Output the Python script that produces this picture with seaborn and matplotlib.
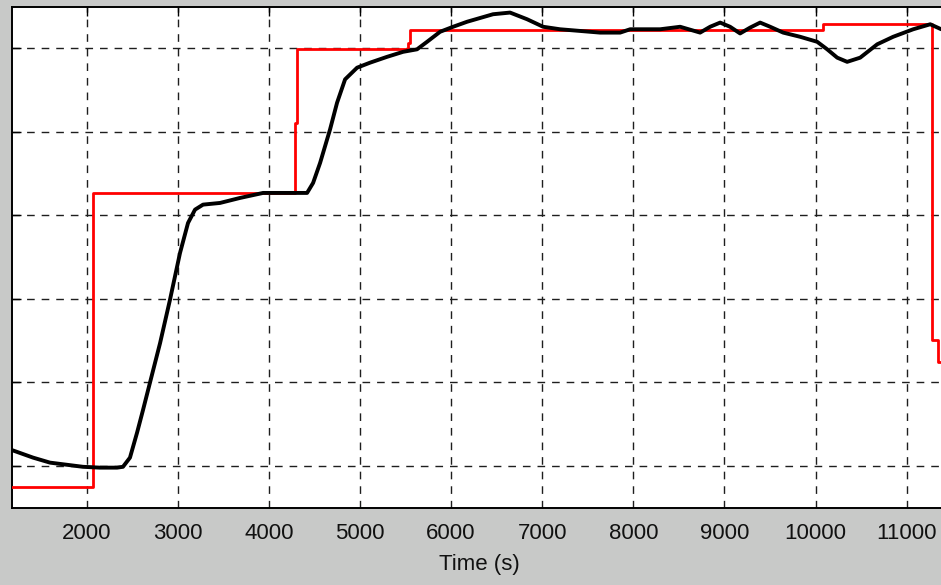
import numpy as np
import pandas as pd
import matplotlib
matplotlib.use("Agg")
import matplotlib.pyplot as plt
import seaborn as sns

# setpoint (red, stepwise) : time of each step and level after it
ref_time = [1180, 2069, 4285, 4310, 5530, 5549, 10082, 11276, 11345, 11450]
ref_level = [0.745, 4.27, 5.11, 5.99, 6.06, 6.22, 6.29, 2.51, 2.25, 2.25]

# measured response (black)
resp_time = [1180, 1411, 1597, 1959, 2146, 2333, 2398, 2475, 2553, 2618,
             2695, 2805, 2914, 3024, 3112, 3189, 3277, 3463, 3683, 3936,
             4419, 4485, 4562, 4671, 4748, 4836, 4968, 5110, 5297, 5473,
             5626, 5736, 5879, 6022, 6175, 6460, 6647, 6834, 7010, 7196,
             7635, 7855, 7965, 8294, 8514, 8733, 8843, 8953, 9062, 9172,
             9282, 9392, 9502, 9645, 9831, 10018, 10128, 10238, 10347, 10490,
             10677, 10852, 11072, 11259, 11380]
resp_value = [1.19, 1.10, 1.04, 0.99, 0.98, 0.98, 0.99, 1.10, 1.40, 1.67,
              2.00, 2.47, 2.99, 3.55, 3.91, 4.07, 4.13, 4.15, 4.21, 4.27,
              4.27, 4.39, 4.63, 5.03, 5.35, 5.63, 5.77, 5.83, 5.90, 5.96,
              5.99, 6.08, 6.20, 6.26, 6.32, 6.41, 6.43, 6.35, 6.26, 6.23,
              6.19, 6.19, 6.23, 6.23, 6.26, 6.19, 6.26, 6.31, 6.26, 6.18,
              6.25, 6.31, 6.26, 6.19, 6.14, 6.08, 5.99, 5.89, 5.84, 5.89,
              6.05, 6.14, 6.23, 6.29, 6.23]

x_ticks = [2000, 3000, 4000, 5000, 6000, 7000, 8000, 9000, 10000, 11000]
y_ticks = [1, 2, 3, 4, 5, 6]

ref_df = pd.DataFrame({"t": ref_time, "v": ref_level})
resp_df = pd.DataFrame({"t": resp_time, "v": resp_value})

sns.set_style("white")
plt.rcParams["font.family"] = ["Liberation Sans", "DejaVu Sans"]

fig = plt.figure(figsize=(9.41, 5.85), dpi=100)
fig.patch.set_facecolor("#c8c9c8")
ax = fig.add_axes([0.01275, 0.1321, 0.9943, 0.8564])
ax.set_facecolor("white")

sns.lineplot(data=ref_df, x="t", y="v", ax=ax, color="#ff0000", lw=2.0,
             drawstyle="steps-post", sort=False, zorder=3)
sns.lineplot(data=resp_df, x="t", y="v", ax=ax, color="black", lw=2.8,
             sort=False, zorder=4)

ax.set_xlim(1180, 11450)
ax.set_ylim(0.5, 6.5)
ax.set_xticks(x_ticks)
ax.set_yticks(y_ticks)
ax.set_yticklabels([])
ax.grid(True, color="#1e1e1e", lw=1.0, linestyle=(0, (5.5, 5.0)))
ax.set_axisbelow(True)

ax.tick_params(axis="both", direction="in", length=6.3, width=1.0,
               top=True, right=False, left=True, color="black")
ax.tick_params(axis="x", labelsize=16, pad=11, labelcolor="#111111")

for side in ["left", "top", "bottom"]:
    ax.spines[side].set_color("black")
    ax.spines[side].set_linewidth(1.4)
ax.spines["right"].set_visible(False)

ax.set_xlabel("Time (s)", fontsize=16, labelpad=7, color="#111111")
ax.set_ylabel("")

fig.savefig("out.png", dpi=100, facecolor=fig.get_facecolor())
